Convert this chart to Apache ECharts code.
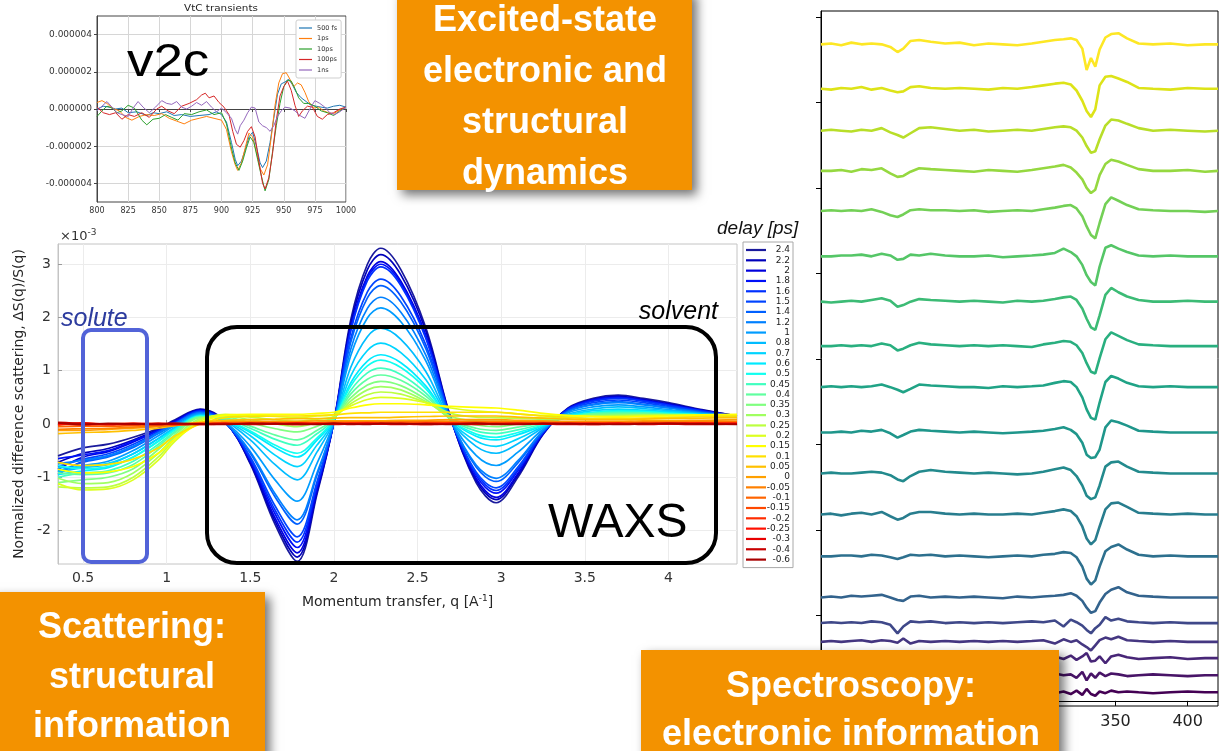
<!DOCTYPE html>
<html>
<head>
<meta charset="utf-8">
<script src="https://cdn.jsdelivr.net/npm/echarts@6/dist/echarts.min.js"></script>
<style>
html, body { margin: 0; padding: 0; background: #fff; }
#chart { width: 1226px; height: 751px; }
</style>
</head>
<body>
<div id="chart"></div>
<script>
// ---- VtC transients (top left), y in units of 1e-6
const vtcNames = ['500 fs', '1ps', '10ps', '100ps', '1ns'];
const vtcColors = ['#1f77b4', '#ff7f0e', '#2ca02c', '#d62728', '#9467bd'];
const vtc500fs = [[800,0],[805,0.15],[810,0.1],[815,0],[820,0.05],[825,-0.2],[832,-0.15],[840,-0.35],[845,-0.2],[850,-0.25],[856,-0.15],[862,-0.35],[868,-0.3],[875,-0.4],[882,-0.35],[890,-0.3],[896,-0.15],[900,-0.3],[904,-0.7],[908,-1.8],[911,-2.7],[913,-3.05],[916,-2.8],[919,-2.2],[922,-1.5],[925,-1.25],[928,-2.0],[931,-2.9],[933,-3.15],[936,-2.8],[939,-1.8],[942,-0.5],[945,0.8],[948,1.35],[951,1.45],[954,1.6],[957,1.3],[960,0.9],[964,0.6],[968,0.4],[972,0.2],[976,0.15],[980,0.1],[985,0.05],[990,0.15],[995,0.2],[1000,0.1]];
const vtc1ps = [[800,0.35],[804,0.45],[808,0.3],[812,0.05],[818,-0.1],[823,-0.45],[828,-0.6],[834,-0.4],[840,-0.3],[846,-0.35],[852,-0.25],[858,-0.5],[864,-0.65],[870,-0.8],[876,-0.6],[882,-0.5],[888,-0.4],[894,-0.5],[900,-0.6],[904,-1.1],[908,-2.3],[911,-3.0],[913,-3.3],[916,-2.9],[919,-2.1],[922,-1.3],[925,-1.5],[928,-2.3],[931,-3.2],[934,-3.55],[937,-3.0],[940,-1.5],[943,0.2],[946,1.4],[949,1.9],[952,1.95],[955,1.6],[958,1.2],[961,1.4],[964,1.3],[967,0.9],[970,0.4],[974,0.05],[978,0.1],[982,-0.1],[986,-0.2],[990,-0.25],[995,-0.05],[1000,0.1]];
const vtc10ps = [[800,-0.4],[804,-0.1],[808,0.15],[812,0.05],[816,-0.2],[820,-0.1],[825,0.2],[830,0.05],[836,-0.6],[840,-0.85],[845,-0.55],[850,-0.5],[855,-0.3],[860,-0.45],[865,-0.6],[870,-0.25],[876,-0.3],[882,-0.15],[888,-0.05],[894,-0.3],[900,-0.2],[904,-0.8],[908,-2.1],[911,-2.9],[914,-3.3],[917,-2.8],[920,-2.1],[923,-1.5],[926,-1.8],[929,-2.7],[932,-3.6],[935,-4.4],[938,-3.8],[941,-2.3],[944,-0.9],[947,0.3],[950,1.2],[953,1.55],[956,1.5],[959,1.1],[962,0.6],[966,0.3],[970,0.3],[975,0.15],[980,-0.1],[985,-0.2],[990,-0.35],[995,-0.1],[1000,0.1]];
const vtc100ps = [[800,0.1],[805,-0.2],[810,-0.3],[815,-0.2],[820,-0.55],[825,-0.3],[830,-0.4],[836,-0.2],[842,-0.45],[848,0],[852,0.15],[857,-0.1],[862,-0.25],[868,0.15],[874,0.3],[880,0.5],[884,0.75],[887,0.85],[890,0.6],[894,0.7],[898,0.35],[902,0.1],[906,-0.3],[909,-1.2],[912,-1.9],[915,-2.05],[918,-1.7],[921,-1.2],[924,-0.95],[927,-1.5],[930,-2.8],[933,-4.0],[935,-4.3],[938,-3.7],[941,-2.4],[944,-0.6],[947,0.7],[950,1.2],[953,1.5],[956,1.0],[959,0.2],[962,-0.4],[965,-0.1],[969,0.15],[973,0.1],[977,-0.4],[981,-0.55],[985,-0.3],[990,-0.2],[995,0],[1000,0.1]];
const vtc1ns = [[800,-0.1],[804,0.15],[808,0.4],[812,0.1],[816,-0.2],[820,-0.3],[825,-0.4],[829,0.05],[833,0.4],[837,0.1],[842,-0.2],[847,0.1],[852,0.45],[856,0.3],[860,0.25],[864,0.4],[868,0.1],[872,0.0],[876,0.15],[880,0.35],[884,0.2],[888,0.4],[892,0.1],[896,-0.15],[900,0.05],[904,-0.2],[908,-0.5],[911,-1.1],[913,-1.35],[915,-0.9],[918,-0.6],[921,-0.2],[924,0.1],[927,0.05],[930,-0.7],[933,-0.9],[936,-1.0],[939,-1.2],[942,-0.9],[945,-0.4],[948,-0.1],[951,0.1],[955,0.05],[959,-0.1],[963,-0.35],[967,-0.5],[971,0],[975,0.45],[979,0.3],[983,0.1],[987,-0.2],[991,-0.3],[995,-0.15],[1000,0.1]];
const vtcSeries = [vtc500fs, vtc1ps, vtc10ps, vtc100ps, vtc1ns];
const vtcXTicks = [800, 825, 850, 875, 900, 925, 950, 975, 1000];
const vtcYTicks = [-4, -2, 0, 2, 4];

// ---- difference scattering, y in units of 1e-3
const qGrid = [0.35,0.5,0.65,0.8,0.95,1.05,1.2,1.35,1.5,1.65,1.78,1.9,2.0,2.1,2.2,2.28,2.4,2.55,2.7,2.85,2.97,3.1,3.25,3.4,3.55,3.7,3.85,4.0,4.2,4.41];
const delayLabels = ['2.4','2.2','2','1.8','1.6','1.5','1.4','1.2','1','0.8','0.7','0.6','0.5','0.45','0.4','0.35','0.3','0.25','0.2','0.15','0.1','0.05','0','-0.05','-0.1','-0.15','-0.2','-0.25','-0.3','-0.4','-0.6'];
const delayColors = ['#1a1a9c','#0000bb','#0000dd','#0010f8','#0030ff','#0044ff','#0060ff','#0080ff','#009cff','#00bcff','#00d4ff','#00eaff','#10fff0','#40ffc0','#60ffa0','#80ff80','#a0ff60','#bcff40','#dcff20','#ffff00','#ffe000','#ffc000','#ffa000','#ff8000','#ff6400','#ff4800','#ff2c00','#ff1000','#e80000','#c80000','#a80000'];
const ds2p4 = [-0.60,-0.45,-0.38,-0.25,-0.08,0.08,0.28,0.05,-0.75,-1.90,-2.58,-1.30,0.05,1.95,3.00,3.30,2.90,1.80,0.10,-1.10,-1.48,-1.00,-0.20,0.30,0.48,0.54,0.48,0.40,0.27,0.15];
const ds2p2 = [-0.72,-0.55,-0.46,-0.30,-0.10,0.06,0.27,0.04,-0.73,-1.84,-2.50,-1.26,0.04,1.88,2.90,3.18,2.80,1.74,0.09,-1.06,-1.42,-0.96,-0.19,0.29,0.46,0.52,0.46,0.38,0.26,0.15];
const ds2p0 = [-0.85,-0.62,-0.52,-0.34,-0.12,0.05,0.26,0.04,-0.70,-1.78,-2.42,-1.22,0.04,1.80,2.78,3.05,2.68,1.66,0.08,-1.02,-1.38,-0.93,-0.18,0.28,0.45,0.50,0.45,0.37,0.25,0.14];
const ds1p8 = [-0.65,-0.58,-0.50,-0.32,-0.12,0.04,0.25,0.03,-0.68,-1.70,-2.32,-1.17,0.04,1.77,2.74,3.00,2.64,1.63,0.08,-0.97,-1.30,-0.88,-0.17,0.28,0.45,0.50,0.44,0.36,0.25,0.14];
const ds1p6 = [-0.95,-0.70,-0.60,-0.42,-0.16,0.02,0.24,0.03,-0.65,-1.63,-2.22,-1.12,0.04,1.74,2.69,2.95,2.60,1.60,0.08,-0.93,-1.25,-0.85,-0.16,0.27,0.43,0.48,0.43,0.35,0.24,0.14];
const ds1p5 = [-0.80,-0.66,-0.56,-0.38,-0.14,0.02,0.23,0.02,-0.62,-1.55,-2.12,-1.07,0.03,1.60,2.48,2.72,2.40,1.48,0.07,-0.90,-1.20,-0.81,-0.15,0.26,0.40,0.45,0.40,0.33,0.23,0.14];
const ds1p4 = [-0.90,-0.72,-0.62,-0.44,-0.18,0.00,0.22,0.02,-0.55,-1.38,-1.88,-0.95,0.03,1.53,2.37,2.60,2.29,1.41,0.07,-0.81,-1.08,-0.73,-0.14,0.24,0.37,0.42,0.37,0.31,0.22,0.14];
const ds1p2 = [-0.75,-0.68,-0.60,-0.42,-0.17,0.00,0.21,0.02,-0.52,-1.32,-1.80,-0.91,0.03,1.40,2.17,2.38,2.10,1.29,0.06,-0.77,-1.02,-0.69,-0.13,0.23,0.36,0.40,0.36,0.30,0.21,0.14];
const ds1p0 = [-0.88,-0.78,-0.70,-0.50,-0.22,-0.03,0.19,0.03,-0.42,-1.06,-1.45,-0.73,0.04,1.28,1.99,2.18,1.92,1.18,0.06,-0.59,-0.78,-0.53,-0.10,0.21,0.32,0.36,0.32,0.27,0.20,0.14];
const ds0p8 = [-0.90,-0.82,-0.76,-0.56,-0.27,-0.06,0.17,0.05,-0.30,-0.77,-1.05,-0.52,0.05,1.06,1.64,1.80,1.59,0.98,0.06,-0.42,-0.55,-0.37,-0.07,0.18,0.28,0.32,0.29,0.25,0.19,0.14];
const ds0p7 = [-0.82,-0.80,-0.74,-0.56,-0.28,-0.08,0.16,0.06,-0.22,-0.59,-0.80,-0.39,0.06,0.90,1.38,1.52,1.34,0.83,0.06,-0.32,-0.42,-0.28,-0.05,0.16,0.25,0.28,0.26,0.23,0.18,0.14];
const ds0p6 = [-0.95,-0.88,-0.82,-0.62,-0.32,-0.10,0.15,0.07,-0.16,-0.45,-0.62,-0.30,0.07,0.77,1.18,1.30,1.15,0.71,0.07,-0.23,-0.30,-0.20,-0.03,0.15,0.22,0.25,0.24,0.21,0.17,0.14];
const ds0p5 = [-0.78,-0.84,-0.80,-0.62,-0.33,-0.11,0.15,0.08,-0.13,-0.40,-0.55,-0.26,0.08,0.71,1.09,1.20,1.06,0.66,0.07,-0.19,-0.25,-0.16,-0.02,0.14,0.21,0.24,0.23,0.20,0.17,0.15];
const ds0p45 = [-1.00,-0.92,-0.88,-0.70,-0.38,-0.14,0.14,0.10,-0.08,-0.29,-0.40,-0.18,0.09,0.63,0.96,1.05,0.93,0.58,0.08,-0.13,-0.18,-0.11,0.00,0.13,0.20,0.22,0.21,0.19,0.17,0.15];
const ds0p4 = [-0.92,-0.95,-0.92,-0.76,-0.42,-0.16,0.13,0.11,-0.04,-0.21,-0.30,-0.12,0.10,0.56,0.84,0.92,0.82,0.52,0.09,-0.08,-0.12,-0.06,0.02,0.12,0.19,0.20,0.20,0.18,0.17,0.15];
const ds0p35 = [-1.10,-1.05,-1.00,-0.84,-0.48,-0.20,0.12,0.13,0.02,-0.09,-0.15,-0.04,0.11,0.49,0.73,0.80,0.72,0.46,0.10,-0.02,-0.05,0.00,0.05,0.12,0.17,0.18,0.18,0.17,0.16,0.15];
const ds0p3 = [-1.02,-1.12,-1.10,-0.92,-0.55,-0.24,0.10,0.15,0.08,0.00,-0.05,0.03,0.12,0.43,0.64,0.70,0.64,0.42,0.14,0.06,0.05,0.06,0.08,0.12,0.15,0.16,0.17,0.16,0.16,0.15];
const ds0p25 = [-1.18,-1.20,-1.18,-1.00,-0.62,-0.28,0.08,0.17,0.13,0.08,0.05,0.09,0.14,0.38,0.55,0.60,0.56,0.40,0.20,0.13,0.12,0.11,0.11,0.13,0.14,0.15,0.16,0.16,0.16,0.16];
const ds0p2 = [-1.12,-1.24,-1.22,-1.05,-0.68,-0.32,0.05,0.18,0.16,0.14,0.12,0.15,0.18,0.34,0.46,0.50,0.48,0.40,0.30,0.24,0.22,0.19,0.16,0.15,0.14,0.14,0.15,0.16,0.16,0.17];
const ds0p15 = [-0.85,-0.92,-0.90,-0.80,-0.55,-0.28,0.02,0.16,0.18,0.18,0.18,0.20,0.22,0.30,0.36,0.38,0.38,0.36,0.33,0.31,0.30,0.26,0.20,0.16,0.14,0.13,0.14,0.15,0.17,0.18];
const ds0p1 = [-0.72,-0.78,-0.76,-0.66,-0.45,-0.22,0.00,0.12,0.14,0.15,0.15,0.16,0.17,0.20,0.21,0.22,0.22,0.22,0.22,0.22,0.22,0.19,0.15,0.12,0.10,0.10,0.11,0.12,0.14,0.15];
const ds0p05 = [-0.18,-0.16,-0.15,-0.12,-0.08,-0.03,0.03,0.07,0.08,0.09,0.10,0.10,0.11,0.12,0.12,0.12,0.13,0.14,0.15,0.15,0.15,0.13,0.11,0.09,0.08,0.08,0.09,0.10,0.11,0.12];
const ds0p0 = [-0.12,-0.12,-0.10,-0.08,-0.05,-0.02,0.02,0.04,0.05,0.05,0.05,0.06,0.06,0.06,0.06,0.06,0.07,0.07,0.08,0.08,0.08,0.07,0.06,0.05,0.05,0.05,0.06,0.06,0.07,0.08];
const dsM0p05 = [-0.10,-0.09,-0.08,-0.06,-0.04,-0.02,0.01,0.02,0.03,0.03,0.03,0.03,0.04,0.04,0.04,0.04,0.04,0.05,0.05,0.05,0.05,0.04,0.04,0.03,0.03,0.03,0.04,0.04,0.05,0.05];
const dsM0p1 = [-0.05,-0.04,-0.04,-0.03,-0.02,-0.01,0.00,0.01,0.01,0.02,0.01,0.02,0.02,0.02,0.03,0.02,0.03,0.03,0.02,0.03,0.02,0.02,0.02,0.01,0.02,0.01,0.02,0.02,0.02,0.03];
const dsM0p15 = [-0.02,0.01,-0.01,0.00,0.01,-0.01,0.00,0.01,0.00,0.02,0.01,0.00,0.02,0.01,0.02,0.01,0.00,0.02,0.01,0.02,0.01,0.00,0.01,0.02,0.01,0.00,0.01,0.02,0.01,0.02];
const dsM0p2 = [0.01,-0.02,0.00,0.01,-0.01,0.00,0.01,0.00,0.01,0.00,0.02,0.01,0.00,0.01,0.02,0.00,0.01,0.00,0.02,0.01,0.00,0.01,0.00,0.01,0.02,0.01,0.00,0.01,0.02,0.01];
const dsM0p25 = [-0.01,0.02,-0.01,0.00,0.00,0.01,-0.01,0.00,0.01,0.00,-0.01,0.01,0.00,0.01,0.00,0.01,0.00,-0.01,0.01,0.00,0.01,0.00,0.01,0.00,-0.01,0.01,0.00,0.01,0.00,0.01];
const dsM0p3 = [0.02,0.00,-0.01,0.01,0.00,-0.01,0.00,0.01,-0.01,0.00,0.01,0.00,-0.01,0.00,0.01,0.00,-0.01,0.01,0.00,-0.01,0.00,0.01,0.00,-0.01,0.00,0.01,-0.01,0.00,0.01,0.00];
const dsM0p4 = [0.03,0.01,0.00,-0.01,0.01,0.00,-0.01,0.00,0.00,0.01,-0.01,0.00,0.01,-0.01,0.00,0.00,0.01,-0.01,0.00,0.01,-0.01,0.00,0.00,0.01,-0.01,0.00,0.01,0.00,-0.01,0.00];
const dsM0p6 = [0.02,-0.01,0.01,0.00,-0.01,0.01,0.00,-0.01,0.01,0.00,0.00,-0.01,0.01,0.00,-0.01,0.01,0.00,0.00,-0.01,0.01,0.00,-0.01,0.01,0.00,0.00,-0.01,0.00,0.01,0.00,-0.01];
const scatterRows = [ds2p4, ds2p2, ds2p0, ds1p8, ds1p6, ds1p5, ds1p4, ds1p2, ds1p0, ds0p8, ds0p7, ds0p6, ds0p5, ds0p45, ds0p4, ds0p35, ds0p3, ds0p25, ds0p2, ds0p15, ds0p1, ds0p05, ds0p0, dsM0p05, dsM0p1, dsM0p15, dsM0p2, dsM0p25, dsM0p3, dsM0p4, dsM0p6];
const qTicks = [0.5, 1, 1.5, 2, 2.5, 3, 3.5, 4];
const dsTicks = [-2, -1, 0, 1, 2, 3];

// ---- spectroscopy waterfall (right)
const specX = [146,153,160,167,174,181,188,194,199,203,208,214,222,232,242,252,262,272,282,292,300,308,314,319,323,327,330,333,336,339,343,347,352,358,366,376,388,400,412,421];
const specOffsets = [768, 716, 667, 620, 573, 520, 467, 415, 367, 314, 266, 218, 169, 121, 91, 69, 50, 30, 10];
const specColors = ['#fde725','#dde318','#b8de29','#95d840','#73d056','#55c667','#3cbb75','#29af7f','#20a386','#1f968b','#238a8d','#287d8e','#2d708e','#33638d','#3f4889','#453781','#482677','#481467','#440154'];
const spec01 = [0,1,-1,2,0,1,0,-3,-9,-5,4,5,3,1,2,-1,1,0,-1,1,3,5,6,7,5,-5,-30,-16,-26,-6,8,12,13,7,1,0,1,-1,0,0];
const spec02 = [0,-1,1,0,2,-1,1,-2,-4,-3,2,3,1,0,1,0,-1,1,0,2,4,6,7,5,-2,-14,-26,-33,-24,4,14,15,12,8,1,0,-1,1,0,0];
const spec03 = [0,1,0,-1,1,0,3,-2,-5,-8,-3,3,4,2,0,1,-1,0,1,0,2,4,5,4,0,-8,-18,-26,-24,-10,6,13,12,8,3,0,1,0,-1,0];
const spec04 = [0,0,1,-1,2,1,3,-3,-7,-6,-1,3,2,1,0,-1,1,0,-1,1,3,5,7,4,-2,-10,-20,-26,-22,-5,8,13,11,7,2,0,0,1,-1,0];
const spec05 = [0,1,0,1,0,2,-1,-5,-7,-4,1,2,1,1,0,1,-1,0,1,0,2,4,6,7,3,-6,-18,-28,-32,-14,8,16,12,7,2,1,0,0,-1,0];
const spec06 = [0,0,1,1,2,0,3,1,-4,-3,2,1,3,1,0,0,1,-1,0,1,2,4,9,5,0,-10,-22,-30,-34,-12,10,13,9,5,1,0,1,0,0,0];
const spec07 = [0,-1,0,1,0,2,4,1,-6,-4,0,3,2,1,0,1,0,-1,1,0,1,3,5,6,2,-8,-20,-30,-33,-16,8,16,11,6,2,0,0,1,0,0];
const spec08 = [0,0,1,0,1,0,3,1,-5,-3,1,4,2,1,0,1,0,1,0,-1,2,4,6,5,1,-8,-20,-30,-32,-14,8,16,12,7,2,1,0,0,0,0];
const spec09 = [0,1,0,1,0,1,3,0,-3,-6,-2,3,2,1,0,0,-1,1,0,1,2,5,7,6,0,-12,-26,-36,-38,-18,6,13,10,5,1,0,1,0,0,0];
const spec10 = [0,0,1,0,2,1,3,-1,-6,-3,1,3,2,1,0,1,0,-1,0,1,2,4,6,3,-2,-12,-26,-30,-29,-20,6,14,12,8,2,1,0,0,0,0];
const spec11 = [0,1,0,0,1,2,1,-2,-7,-9,-3,2,4,2,1,0,1,0,-1,0,2,5,7,4,-3,-14,-26,-30,-28,-14,8,13,14,8,2,1,0,0,0,0];
const spec12 = [0,1,-1,1,2,0,3,-2,-6,-4,1,3,3,1,0,1,0,0,1,0,2,4,6,4,-2,-14,-28,-35,-30,-14,6,13,14,9,2,1,0,1,0,0];
const spec13 = [0,0,1,1,0,2,1,-1,-3,-1,2,1,2,0,1,0,-1,0,1,0,2,3,5,4,-1,-12,-26,-33,-28,-12,6,11,14,8,2,0,1,0,0,0];
const spec14 = [0,1,0,2,1,2,3,0,-3,-4,1,2,0,1,0,1,0,-1,1,0,1,2,3,5,2,-4,-12,-18,-16,-6,4,9,12,6,2,1,0,0,0,0];
const spec15 = [0,1,0,1,0,2,1,-2,-12,-4,2,1,2,0,1,0,1,0,1,2,1,3,-4,4,1,-3,-8,-12,-6,-2,7,3,5,2,1,0,1,0,0,0];
const spec16 = [0,1,0,1,2,0,2,1,-1,4,-2,1,0,1,0,1,0,1,0,1,2,-2,3,0,2,-3,-6,-10,-4,2,5,3,6,2,1,0,1,0,0,0];
const spec17 = [0,-1,1,0,1,-1,0,2,-1,1,0,1,0,-1,1,0,1,0,-1,1,0,2,-1,3,-2,2,6,-4,-3,2,-6,2,4,1,-1,0,1,-1,0,0];
const spec18 = [0,1,-1,0,1,0,-1,1,0,-1,1,0,1,-1,0,1,0,-1,1,2,-1,2,0,1,-3,4,-6,2,-3,3,-1,2,1,-1,0,1,0,-1,0,0];
const spec19 = [0,-1,0,1,0,-1,1,0,-1,0,1,-1,0,1,-1,0,1,0,-1,1,0,-1,1,-2,2,-3,4,-2,-4,1,-1,2,0,1,0,-1,0,1,0,0];
const specRows = [spec01, spec02, spec03, spec04, spec05, spec06, spec07, spec08, spec09, spec10, spec11, spec12, spec13, spec14, spec15, spec16, spec17, spec18, spec19];
const specXTicks = [150, 200, 250, 300, 350, 400];
const specYTicks = [0, 100, 200, 300, 400, 500, 600, 700, 800];

const chart = echarts.init(document.getElementById('chart'));

const series = [];
vtcSeries.forEach(function (pts, i) {
    series.push({
        type: 'line', name: vtcNames[i], xAxisIndex: 0, yAxisIndex: 0,
        data: pts, showSymbol: false, silent: true,
        lineStyle: {width: 1, color: vtcColors[i]},
        itemStyle: {color: vtcColors[i]}
    });
});
scatterRows.forEach(function (row, i) {
    series.push({
        type: 'line', name: delayLabels[i], xAxisIndex: 1, yAxisIndex: 1,
        data: qGrid.map(function (q, j) { return [q, row[j]]; }),
        showSymbol: false, smooth: 0.35, silent: true,
        lineStyle: {width: 1.7, color: delayColors[i]},
        itemStyle: {color: delayColors[i]}
    });
});
specRows.forEach(function (row, i) {
    series.push({
        type: 'line', name: 'trace ' + (i + 1), xAxisIndex: 2, yAxisIndex: 2,
        data: specX.map(function (x, j) { return [x, specOffsets[i] + row[j]]; }),
        showSymbol: false, silent: true,
        lineStyle: {width: 2.6, color: specColors[i]},
        itemStyle: {color: specColors[i]}
    });
});

const mplFont = 'DejaVu Sans';
const armFont = 'Liberation Sans';
const orange = '#f39200';
const shadow = {shadowBlur: 10, shadowOffsetX: 5, shadowOffsetY: 5, shadowColor: 'rgba(0,0,0,0.55)'};

function boxText(x, y, text, lh) {
    return {type: 'text', x: x, y: y, z: 101,
        style: {text: text, fontFamily: armFont, fontSize: 36, fontWeight: 'bold', fill: '#fff',
            align: 'center', verticalAlign: 'middle', lineHeight: lh}};
}
function plainText(x, y, text, size, color, italic, align) {
    return {type: 'text', x: x, y: y, z: 30,
        style: {text: text, fontFamily: armFont, fontSize: size, fontStyle: italic ? 'italic' : 'normal',
            fill: color, align: align || 'left', verticalAlign: 'middle'}};
}

const option = {
    animation: false,
    backgroundColor: '#fff',
    grid: [
        {left: 97, top: 16, width: 249, height: 186, show: true, borderColor: '#444', borderWidth: 1},
        {left: 58, top: 244, width: 679, height: 320, show: true, borderColor: '#c4c4c4', borderWidth: 1},
        {left: 821, top: 11, width: 397, height: 695, show: true, borderColor: '#000', borderWidth: 1}
    ],
    xAxis: [
        {
            type: 'value', gridIndex: 0, min: 800, max: 1000,
            axisLine: {lineStyle: {color: '#444'}},
            axisTick: {customValues: vtcXTicks, length: 3, lineStyle: {color: '#444'}},
            axisLabel: {customValues: vtcXTicks, fontSize: 8, fontFamily: mplFont, color: '#333', margin: 5,
                formatter: function (v) { return String(v); }},
            splitLine: {show: true, lineStyle: {color: '#d6d6d6'}}
        },
        {
            type: 'value', gridIndex: 1, min: 0.35, max: 4.41,
            name: 'Momentum transfer, q [A{sup|-1}]', nameLocation: 'middle', nameGap: 30,
            nameTextStyle: {fontSize: 14, fontFamily: mplFont, color: '#262626', rich: {sup: {fontSize: 9, verticalAlign: 'top', padding: [0, 0, 8, 0]}}},
            axisLine: {lineStyle: {color: '#c4c4c4'}},
            axisTick: {customValues: qTicks, inside: true, length: 4, lineStyle: {color: '#9a9a9a'}},
            axisLabel: {customValues: qTicks, fontSize: 14, fontFamily: mplFont, color: '#333', margin: 7},
            splitLine: {show: true, lineStyle: {color: '#ececec'}}
        },
        {
            type: 'value', gridIndex: 2, min: 146, max: 421,
            axisLine: {lineStyle: {color: '#000'}},
            axisTick: {customValues: specXTicks, length: 5, lineStyle: {color: '#000'}},
            axisLabel: {customValues: specXTicks, fontSize: 16, fontFamily: mplFont, color: '#222', margin: 8},
            splitLine: {show: false}
        }
    ],
    yAxis: [
        {
            type: 'value', gridIndex: 0, min: -5, max: 5,
            axisLine: {show: true, lineStyle: {color: '#444'}},
            axisTick: {show: true, customValues: vtcYTicks, length: 3, lineStyle: {color: '#444'}},
            axisLabel: {customValues: vtcYTicks, fontSize: 9, fontFamily: mplFont, color: '#333', margin: 5,
                formatter: function (v) { return (v * 1e-6).toFixed(6); }},
            splitLine: {show: true, lineStyle: {color: '#d6d6d6'}}
        },
        {
            type: 'value', gridIndex: 1, min: -2.63, max: 3.38,
            name: 'Normalized difference scattering, \u0394S(q)/S(q)', nameLocation: 'middle', nameGap: 28, nameRotate: 90,
            nameTextStyle: {fontSize: 14, fontFamily: mplFont, color: '#262626'},
            axisLine: {show: true, lineStyle: {color: '#c4c4c4'}},
            axisTick: {show: true, customValues: dsTicks, inside: true, length: 4, lineStyle: {color: '#9a9a9a'}},
            axisLabel: {customValues: dsTicks, fontSize: 14, fontFamily: mplFont, color: '#333', margin: 7},
            splitLine: {show: true, lineStyle: {color: '#ececec'}}
        },
        {
            type: 'value', gridIndex: 2, min: -6, max: 807,
            axisLine: {show: true, lineStyle: {color: '#000'}},
            axisTick: {show: true, customValues: specYTicks, length: 5, lineStyle: {color: '#000'}},
            axisLabel: {show: false},
            splitLine: {show: false}
        }
    ],
    legend: [
        {
            data: vtcNames, orient: 'vertical', left: 296, top: 20,
            icon: 'rect', itemWidth: 13, itemHeight: 1.2, itemGap: 0.5, itemTextGap: 4,
            padding: [3, 4, 3, 3], borderColor: '#cfcfcf', borderWidth: 1, borderRadius: 2,
            backgroundColor: '#fff', selectedMode: false,
            textStyle: {fontSize: 6.5, fontFamily: mplFont, color: '#333', lineHeight: 10}
        },
        {
            data: delayLabels, orient: 'vertical', left: 743, top: 242,
            icon: 'rect', itemWidth: 20, itemHeight: 2.2, itemGap: 0.32, itemTextGap: 4,
            padding: [3, 3, 3, 3], borderColor: '#a8a8a8', borderWidth: 1,
            backgroundColor: '#fff', selectedMode: false,
            formatter: function (n) { return '{a|' + n + '}'; },
            textStyle: {fontSize: 9, fontFamily: mplFont, color: '#222',
                rich: {a: {width: 19, height: 10, align: 'right', fontSize: 9, lineHeight: 10, fontFamily: mplFont, color: '#222'}}}
        }
    ],
    graphic: [
        {type: 'text', x: 221, y: 9, scaleX: 1.3, z: 20,
            style: {text: 'VtC transients', fontFamily: mplFont, fontSize: 8, fill: '#222', align: 'center', verticalAlign: 'middle'}},
        {type: 'text', x: 127, y: 63, scaleX: 1.15, z: 20,
            style: {text: 'v2c', fontFamily: armFont, fontSize: 46, fill: '#000', align: 'left', verticalAlign: 'middle'}},
        {type: 'text', x: 60, y: 237, z: 20,
            style: {text: '\u00d710{s|-3}', fontFamily: mplFont, fontSize: 13, fill: '#333', align: 'left', verticalAlign: 'middle',
                rich: {s: {fontSize: 9, fontFamily: mplFont, fill: '#333', padding: [0, 0, 8, 0]}}}},
        plainText(717, 229, 'delay [ps]', 19, '#111', true),
        {type: 'rect', z: 30, shape: {x: 83, y: 330, width: 64, height: 232, r: 8},
            style: {fill: 'none', stroke: '#5263d8', lineWidth: 4}},
        plainText(61, 319, 'solute', 25, '#2c3b9e', true),
        {type: 'rect', z: 30, shape: {x: 207, y: 327, width: 509, height: 236, r: 30},
            style: {fill: 'none', stroke: '#000', lineWidth: 4}},
        plainText(718, 312, 'solvent', 25, '#000', true, 'right'),
        plainText(548, 524, 'WAXS', 48, '#000', false),
        {type: 'rect', z: 100, shape: {x: 397, y: -10, width: 295, height: 200},
            style: Object.assign({fill: orange}, shadow)},
        boxText(545, 98, 'Excited-state\nelectronic and\nstructural\ndynamics', 51),
        {type: 'rect', z: 100, shape: {x: -10, y: 592, width: 275, height: 170},
            style: Object.assign({fill: orange}, shadow)},
        boxText(132, 678, 'Scattering:\nstructural\ninformation', 49.5),
        {type: 'rect', z: 100, shape: {x: 641, y: 650, width: 418, height: 112},
            style: Object.assign({fill: orange}, shadow)},
        boxText(851, 711, 'Spectroscopy:\nelectronic information', 48)
    ],
    series: series
};

chart.setOption(option);
</script>
</body>
</html>
